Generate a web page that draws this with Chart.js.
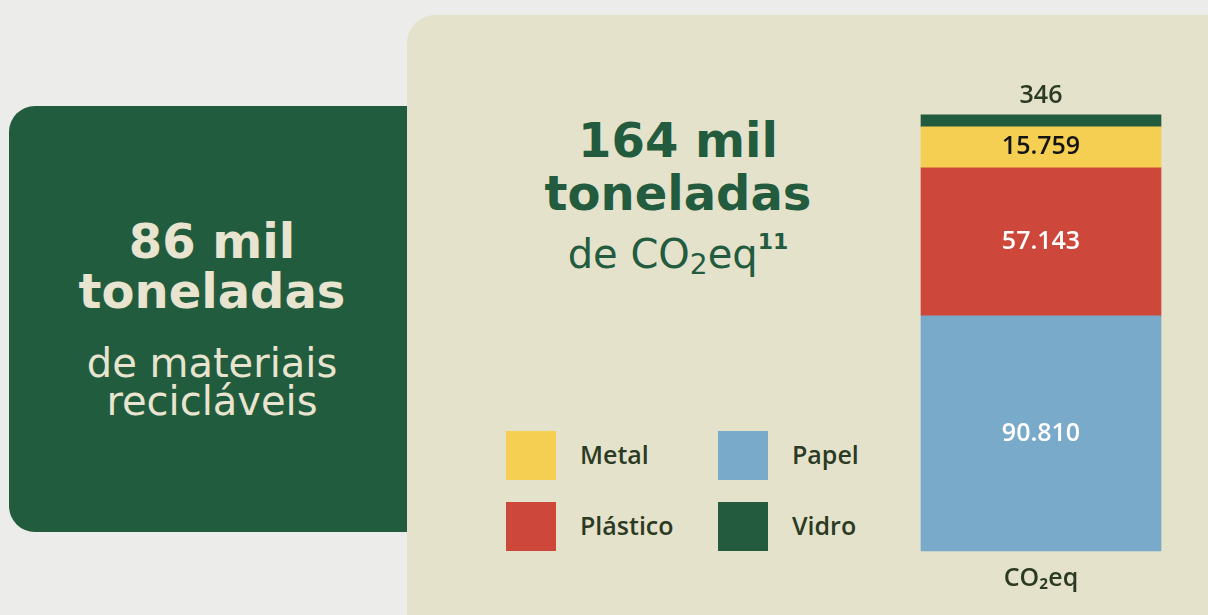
<!DOCTYPE html>
<html lang="pt-BR">
<head>
<meta charset="utf-8">
<title>Materiais recicláveis e CO2eq</title>
<script src="https://cdn.jsdelivr.net/npm/chart.js@4.4.1/dist/chart.umd.min.js"></script>
<style>
  html, body { margin: 0; padding: 0; }
  body {
    width: 1208px; height: 615px; overflow: hidden; position: relative;
    background: #ececea;
    font-family: "DejaVu Sans", "Noto Sans", sans-serif;
  }
  .left-box {
    position: absolute; left: 9px; top: 106px; width: 440px; height: 426px;
    background: #225c3e; border-radius: 26px;
  }
  .panel {
    position: absolute; left: 407px; top: 15px; width: 830px; height: 630px;
    background: #e5e2cc; border-radius: 28px;
  }
  .line { position: absolute; line-height: 1; white-space: nowrap; text-align: center; }
  .cream { color: #e8e4cf; }
  .dark { color: #225b3d; }
  .big { font-size: 48px; font-weight: bold; }
  .mid { font-size: 40px; font-weight: normal; }
  .mid sub { font-size: 0.7em; vertical-align: -0.22em; line-height: 0; }
  .mid sup { font-size: 0.55em; vertical-align: 0.85em; line-height: 0; font-weight: bold; }
  #legend {
    position: absolute; left: 506px; top: 431px;
    display: grid; grid-template-columns: 212px 212px; row-gap: 22px;
  }
  .item { display: flex; align-items: center; height: 49px; }
  .swatch { width: 50px; height: 49px; margin-right: 24px; }
  .item span { font-family: "Open Sans", sans-serif; font-weight: 600; font-size: 25px; color: #2b3a22; margin-top: -3px; }
  #wrap { position: absolute; left: 900px; top: 60px; width: 280px; height: 547px; }
</style>
</head>
<body>
<div class="left-box"></div>
<div class="line cream big" style="left:12px; width:400px; top:217px;">86 mil</div>
<div class="line cream big" style="left:12px; width:400px; top:267px;">toneladas</div>
<div class="line cream mid" style="left:12px; width:400px; top:343px;">de materiais</div>
<div class="line cream mid" style="left:12px; width:400px; top:381px;">recicláveis</div>

<div class="panel"></div>
<div class="line dark big" style="left:478px; width:400px; top:116px;">164 mil</div>
<div class="line dark big" style="left:478px; width:400px; top:169px;">toneladas</div>
<div class="line dark mid" style="left:478px; width:400px; top:234px;">de CO<sub>2</sub>eq<sup>11</sup></div>

<div id="legend"></div>
<div id="wrap"><canvas id="co2Chart"></canvas></div>

<script>
// dados (toneladas de CO2eq), de baixo para cima na pilha
const categories = ['CO₂eq'];
const materials = ['Papel', 'Plástico', 'Metal', 'Vidro'];
const values = [90810, 57143, 15759, 346];
const legendOrder = ['Metal', 'Papel', 'Plástico', 'Vidro'];

const colors = ['#7aaac9', '#cd473b', '#f5cf52', '#225b3d'];
const labelColors = ['#ffffff', '#ffffff', '#141414', '#2b3a22'];

function fmt(n) {
  return String(n).replace(/\B(?=(\d{3})+(?!\d))/g, '.');
}

// legenda em grade 2x2
const legendEl = document.getElementById('legend');
legendOrder.forEach(function(name) {
  const i = materials.indexOf(name);
  const item = document.createElement('div');
  item.className = 'item';
  item.innerHTML = '<div class="swatch" style="background:' + colors[i] + '"></div><span>' + name + '</span>';
  legendEl.appendChild(item);
});

const total = values.reduce((a, b) => a + b, 0);

const valueLabels = {
  id: 'valueLabels',
  afterDatasetsDraw(chart) {
    const ctx = chart.ctx;
    ctx.save();
    ctx.font = '600 25px "Open Sans", sans-serif';
    ctx.textAlign = 'center';
    ctx.textBaseline = 'middle';
    chart.data.datasets.forEach(function(ds, i) {
      const bar = chart.getDatasetMeta(i).data[0];
      ctx.fillStyle = labelColors[i];
      let y = (bar.y + bar.base) / 2;
      if (i === values.length - 1) y = bar.y - 19; // Vidro fica acima da barra
      ctx.fillText(fmt(ds.data[0]), bar.x, y);
    });
    ctx.restore();
  }
};

const ctx = document.getElementById('co2Chart').getContext('2d');
const co2Chart = new Chart(ctx, {
  type: 'bar',
  data: {
    labels: categories,
    datasets: materials.map(function(name, i) {
      return {
        label: name,
        data: [values[i]],
        backgroundColor: colors[i],
        borderWidth: 0,
        barPercentage: 1,
        categoryPercentage: 1,
        minBarLength: i === values.length - 1 ? 12 : 0,
        clip: false
      };
    })
  },
  options: {
    responsive: true,
    maintainAspectRatio: false,
    animation: false,
    layout: { padding: { left: 21, right: 19, top: 66, bottom: 0 } },
    plugins: { legend: { display: false }, tooltip: { enabled: false } },
    scales: {
      x: {
        stacked: true,
        grid: { display: false, drawTicks: false },
        border: { display: false },
        ticks: { color: '#2b3a22', padding: 13, font: { family: '"Open Sans", sans-serif', size: 25, weight: '600' } }
      },
      y: {
        stacked: true,
        display: false,
        min: 0,
        max: total
      }
    }
  },
  plugins: [valueLabels]
});
</script>
</body>
</html>
